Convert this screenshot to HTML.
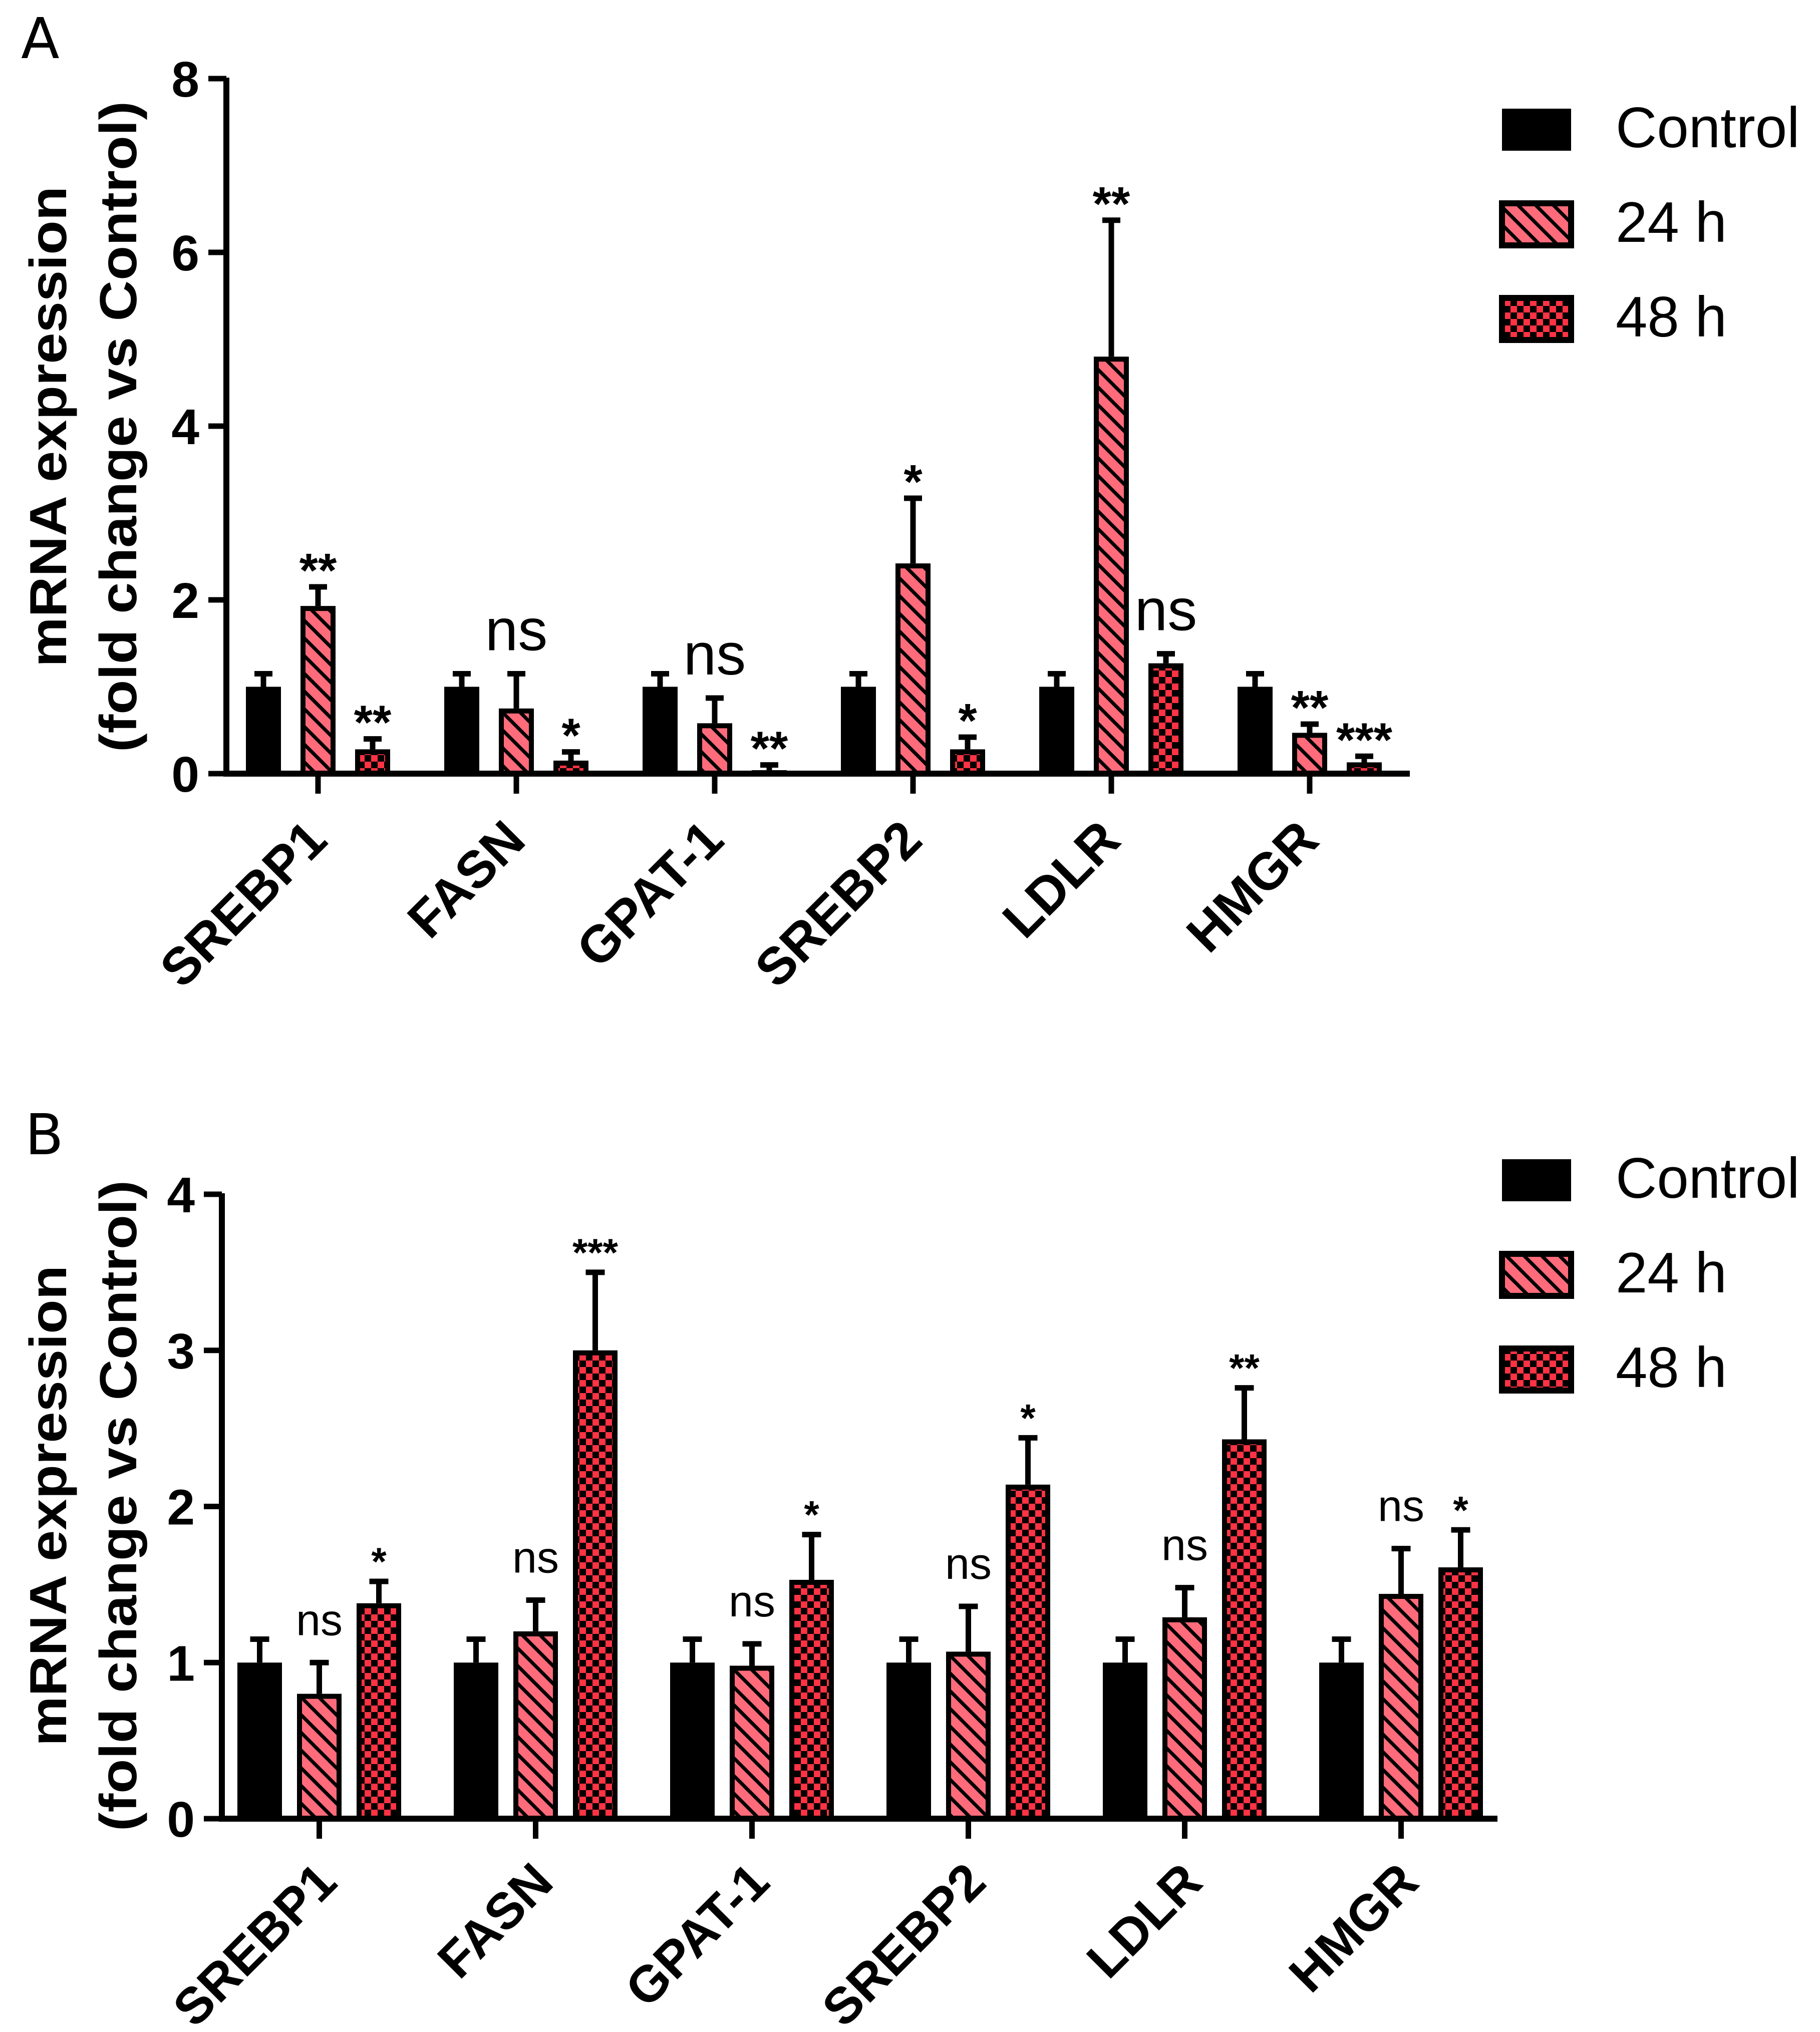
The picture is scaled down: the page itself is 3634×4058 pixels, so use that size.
<!DOCTYPE html>
<html><head><meta charset="utf-8"><style>
html,body{margin:0;padding:0;background:#fff;}
svg{display:block;}
</style></head><body>
<svg id="fig" width="3634" height="4058" viewBox="0 0 3634 4058" xmlns="http://www.w3.org/2000/svg" font-family="Liberation Sans, sans-serif">
<defs>
<pattern id="hatch" patternUnits="userSpaceOnUse" width="25" height="25" patternTransform="rotate(-45)">
<rect width="25" height="25" fill="#ff6b7a"/>
<rect x="0" y="0" width="7" height="25" fill="#000"/>
</pattern>
<pattern id="check" patternUnits="userSpaceOnUse" width="26" height="26">
<rect width="26" height="26" fill="#ff3344"/>
<rect x="0" y="0" width="13" height="13" fill="#000"/>
<rect x="13" y="13" width="13" height="13" fill="#000"/>
</pattern>
</defs>
<g id="A"></g>
<g id="B"></g>
</svg>
<script>
const categories = ["SREBP1","FASN","GPAT-1","SREBP2","LDLR","HMGR"];
const seriesNames = ["Control","24 h","48 h"];
const aMeans = [[1,1,1,1,1,1],[1.93,0.75,0.58,2.42,4.80,0.47],[0.28,0.15,0.04,0.28,1.27,0.13]];
const aErrTop = [[1.15,1.15,1.15,1.15,1.15,1.15],[2.15,1.15,0.87,3.17,6.37,0.57],[0.40,0.25,0.10,0.42,1.38,0.20]];
const aSig = [["","","","","",""],["**","ns","ns","*","**","**"],["**","*","**","*","ns","***"]];
const aTicks = [0,2,4,6,8];
const bMeans = [[1,1,1,1,1,1],[0.80,1.20,0.98,1.07,1.29,1.44],[1.38,3.00,1.53,2.14,2.43,1.61]];
const bErrTop = [[1.15,1.15,1.15,1.15,1.15,1.15],[1.00,1.40,1.12,1.36,1.48,1.73],[1.52,3.50,1.82,2.44,2.76,1.85]];
const bSig = [["","","","","",""],["ns","ns","ns","ns","ns","ns"],["*","***","*","*","**","*"]];
const bTicks = [0,1,2,3,4];

const NS="http://www.w3.org/2000/svg";
function mk(parent,tag,attrs,text){const e=document.createElementNS(NS,tag);for(const k in attrs)e.setAttribute(k,attrs[k]);if(text!==undefined)e.textContent=text;parent.appendChild(e);return e;}
const fills=["#000","url(#hatch)","url(#check)"];

function panel(g,cfg,means,errTop,sig,ticks){
  const y=v=>cfg.y0-(v-ticks[0])*(cfg.y0-cfg.yTop)/(ticks[ticks.length-1]-ticks[0]);
  const xBar=(c,s)=>cfg.x0+c*cfg.step+s*cfg.off;
  const L=mk(g,"text",{x:cfg.letterX,y:cfg.letterY,"font-size":112,"font-family":"DejaVu Sans, sans-serif","font-weight":"normal"},cfg.letter);
  
  
  const t=mk(g,"g",{transform:`translate(0,${cfg.titleCY}) rotate(-90)`});
  
  
  mk(t,"text",{x:0,y:132,"text-anchor":"middle","font-size":104,"font-weight":"bold",textLength:960,lengthAdjust:"spacingAndGlyphs"},"mRNA expression");
  mk(t,"text",{x:0,y:272,"text-anchor":"middle","font-size":104,"font-weight":"bold",textLength:1300,lengthAdjust:"spacingAndGlyphs"},"(fold change vs Control)");
  for(let s=0;s<3;s++){for(let c=0;c<categories.length;c++){
    const bx=xBar(c,s), top=y(means[s][c]), et=y(errTop[s][c]), cx=bx+cfg.bw/2;
    const eb=mk(g,"path",{d:`M${cx},${top} V${et} M${cx-cfg.cap/2},${et} H${cx+cfg.cap/2}`,stroke:"#000","stroke-width":11,fill:"none"});
    
    
    const r=mk(g,"rect",{x:bx+5,y:top+5,width:cfg.bw-10,height:Math.max(0,cfg.y0-top-5),fill:fills[s],stroke:"#000","stroke-width":10});
    
    
    if(sig[s][c]){
      const isNs=sig[s][c]==="ns";
      const ty=isNs?et-cfg.nsGap:et-cfg.starGap;
      const st=mk(g,"text",{x:cx,y:ty,"text-anchor":"middle","font-size":isNs?cfg.nsSize:cfg.starSize,"font-weight":isNs?"normal":"bold"},sig[s][c]);
      
      
    }
  }}
  const ax=mk(g,"path",{d:`M${cfg.axX},${cfg.yTop-2} V${cfg.y0+6} M${cfg.axX-6},${cfg.y0} H${cfg.xEnd}`,stroke:"#000","stroke-width":12,fill:"none"});
  
  
  ticks.forEach(v=>{
    mk(g,"line",{x1:cfg.axX-36,x2:cfg.axX,y1:y(v),y2:y(v),stroke:"#000","stroke-width":11});
    const tl=mk(g,"text",{x:cfg.axX-54,y:y(v)+36,"text-anchor":"end","font-size":100,"font-weight":"bold"},String(v));
    
    
  });
  categories.forEach((c,i)=>{
    const tx=xBar(i,1)+cfg.bw/2;
    mk(g,"line",{x1:tx,x2:tx,y1:cfg.y0,y2:cfg.y0+40,stroke:"#000","stroke-width":11});
    const xl=mk(g,"text",{x:0,y:0,"text-anchor":"end","font-size":cfg.xlSize,"font-weight":"bold",transform:`translate(${tx+cfg.xlDx},${cfg.y0+cfg.xlDy}) rotate(-45)`},c);
    
    
  });
  seriesNames.forEach((n,i)=>{
    const ly=cfg.legY+i*189;
    const lg=mk(g,"g",{});
    
    
    mk(lg,"rect",{x:2999,y:ly+5,width:138,height:84,fill:fills[i],stroke:"#000","stroke-width":i?12:0});
    if(!i) lg.lastChild.setAttribute("stroke","none");
    mk(lg,"text",{x:3226,y:ly+82,"font-size":114},n);
  });
}
panel(document.getElementById("A"),{letter:"A",letterX:42,letterY:116,titleCY:852,x0:491,step:396,off:109,bw:70,cap:36,y0:1545,yTop:157,axX:452,xEnd:2815,nsGap:47,starGap:0,nsSize:118,starSize:96,xlSize:104,xlDx:23,xlDy:138,legY:212},aMeans,aErrTop,aSig,aTicks);
panel(document.getElementById("B"),{letter:"B",letterX:50,letterY:2305,titleCY:3007,x0:474,step:432,off:119,bw:89,cap:38,y0:3632,yTop:2385,axX:443,xEnd:2990,nsGap:55,starGap:13,nsSize:88,starSize:78,xlSize:102,xlDx:40,xlDy:132,legY:2310},bMeans,bErrTop,bSig,bTicks);
</script>
</body></html>
